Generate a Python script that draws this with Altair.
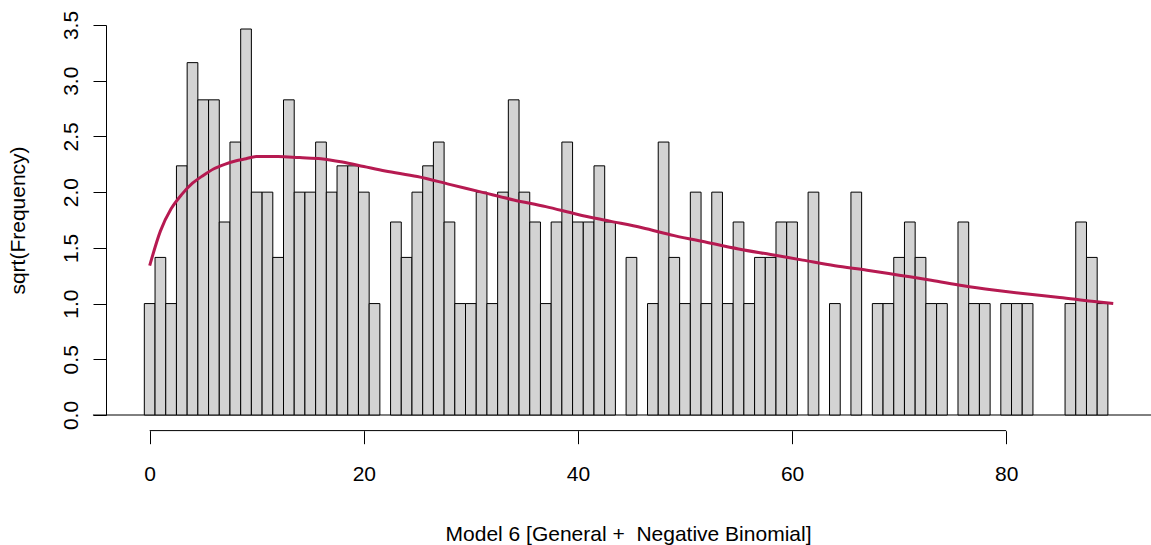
import altair as alt
import pandas as pd

# Observed counts per value 0..89 (rootogram bars are drawn on the sqrt scale)
counts = [
    1, 2, 1, 5, 10, 8, 8, 3, 6, 12,
    4, 4, 2, 8, 4, 4, 6, 4, 5, 5,
    4, 1, 0, 3, 2, 4, 5, 6, 3, 1,
    1, 4, 1, 4, 8, 4, 3, 1, 3, 6,
    3, 3, 5, 3, 0, 2, 0, 1, 6, 2,
    1, 4, 1, 4, 1, 3, 1, 2, 2, 3,
    3, 0, 4, 0, 1, 0, 4, 0, 1, 1,
    2, 3, 2, 1, 1, 0, 3, 1, 1, 0,
    1, 1, 1, 0, 0, 0, 1, 3, 2, 1,
]
values = list(range(len(counts)))

# Fitted negative binomial curve, sqrt(expected frequency)
fit_x = [0, 1, 2, 3, 4, 5, 6, 7, 8, 9, 10, 12, 14, 16, 18, 20, 22, 25, 28, 31,
         34, 37, 40, 43, 46, 49, 52, 55, 58, 61, 64, 67, 70, 73, 76, 79, 82, 85, 88, 90]
fit_y = [1.34, 1.65, 1.85, 1.98, 2.08, 2.15, 2.21, 2.25, 2.28, 2.30, 2.32, 2.32, 2.31, 2.30,
         2.27, 2.23, 2.19, 2.14, 2.07, 2.00, 1.93, 1.87, 1.80, 1.74, 1.68, 1.61, 1.55, 1.49,
         1.44, 1.39, 1.34, 1.30, 1.255, 1.21, 1.16, 1.12, 1.085, 1.055, 1.02, 1.00]

x_ticks = [0, 20, 40, 60, 80]
y_ticks = [0.0, 0.5, 1.0, 1.5, 2.0, 2.5, 3.0, 3.5]

FONT = "Liberation Sans"
FS = 21

bars_df = pd.DataFrame({"value": values, "count": counts})
bars_df = bars_df[bars_df["count"] > 0]
fit_df = pd.DataFrame({"x": fit_x, "y": fit_y})

xscale = alt.Scale(domain=[-4.08, 92.5], nice=False, zero=False)
yscale = alt.Scale(domain=[0, 3.5], nice=False, zero=False)

# R-style usr limits: the x axis line sits at the bottom edge of the extended y range
Y_USR_MIN = -0.14
X_USR = (-5.3, 93.7)

x_axis = alt.Axis(
    values=x_ticks, domain=False, grid=False, tickSize=13, tickColor="black",
    offset=15.7, labelFont=FONT, labelFontSize=FS, labelColor="black",
    labelPadding=20, labelFlush=False, labelOverlap=False,
    title="Model 6 [General +\u00a0 Negative Binomial]",
    titleFont=FONT, titleFontSize=FS, titleFontWeight="normal", titleColor="black",
    titleX=522, titleY=110, titleAlign="center", titleBaseline="alphabetic",
)
y_axis = alt.Axis(
    values=y_ticks, format=".1f", grid=False, domainColor="black", tickColor="black",
    tickSize=13, labelFont=FONT, labelFontSize=FS, labelColor="black",
    labelAngle=270, labelAlign="center", labelBaseline="alphabetic", labelPadding=16,
    labelFlush=False, labelOverlap=False,
    title="sqrt(Frequency)", titleFont=FONT, titleFontSize=FS, titleFontWeight="normal",
    titleColor="black", titleAngle=270, titleX=-82, titleY=195,
    titleAlign="center", titleBaseline="alphabetic",
)


def xenc(field):
    return alt.X(field, scale=xscale, axis=x_axis)


def yenc(field):
    return alt.Y(field, scale=yscale, axis=y_axis)


baseline = alt.Chart(pd.DataFrame({"a": [X_USR[0]], "b": [X_USR[1]], "y": [0.0]})).mark_rule(
    color="black", strokeWidth=1
).encode(x=xenc("a:Q"), x2="b:Q", y=yenc("y:Q"))

bars = alt.Chart(bars_df).transform_calculate(
    lo="datum.value - 0.5", hi="datum.value + 0.5", root="sqrt(datum.count)"
).mark_bar(fill="#D3D3D3", stroke="black", strokeWidth=1).encode(
    x=xenc("lo:Q"), x2="hi:Q", y=yenc("root:Q"), y2=alt.datum(0),
)

curve = alt.Chart(fit_df).mark_line(
    color="#B61A51", strokeWidth=3, interpolate="monotone"
).encode(x=xenc("x:Q"), y=yenc("y:Q"))

axis_line = alt.Chart(pd.DataFrame({"a": [x_ticks[0]], "b": [x_ticks[-1]], "y": [Y_USR_MIN]})).mark_rule(
    color="black", strokeWidth=1
).encode(x=xenc("a:Q"), x2="b:Q", y=yenc("y:Q"))

chart = alt.layer(baseline, bars, curve, axis_line).properties(
    width=1034,
    height=390,
    padding={"left": 106, "top": 25, "right": 11, "bottom": 130},
    autosize=alt.AutoSizeParams(type="none"),
    background="white",
).configure_view(stroke=None)

chart.save("out.html", embed_options={"renderer": "svg", "actions": False})
